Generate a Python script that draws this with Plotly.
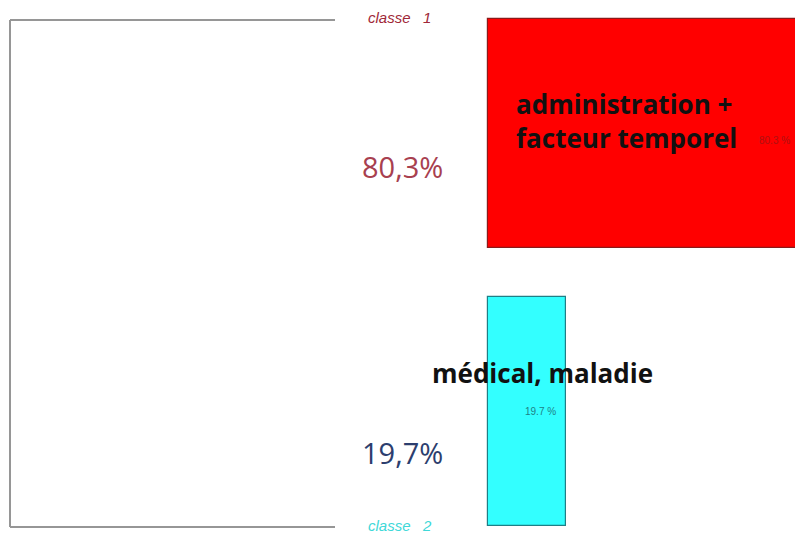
import plotly.graph_objects as go

classes = ["classe 1", "classe 2"]
values = [80.3, 19.7]
pct_labels = ["80,3%", "19,7%"]
small_labels = ["80.3 %", "19.7 %"]
themes = ["administration +<br>facteur temporel", "médical, maladie"]
bar_colors = ["#ff0000", "#33ffff"]
edge_colors = ["#8b1a1a", "#1f7f86"]
class_colors = ["#a02838", "#40d8d8"]
pct_colors = ["#a8404f", "#2c3e6e"]

W, H = 795, 535
ypos = [0, 1]

fig = go.Figure()
fig.add_trace(go.Bar(
    y=ypos, x=values, orientation="h", width=0.827,
    marker=dict(color=bar_colors, line=dict(color=edge_colors, width=1.2)),
    hoverinfo="skip", showlegend=False,
))

def px_x(p):
    return p / W

def px_y(p):
    return 1 - p / H

# dendrogram bracket
line = dict(color="#969696", width=2)
fig.add_shape(type="line", xref="paper", yref="paper", x0=px_x(10), x1=px_x(335), y0=px_y(20), y1=px_y(20), line=line)
fig.add_shape(type="line", xref="paper", yref="paper", x0=px_x(10), x1=px_x(10), y0=px_y(20), y1=px_y(527), line=line)
fig.add_shape(type="line", xref="paper", yref="paper", x0=px_x(10), x1=px_x(335), y0=px_y(527), y1=px_y(527), line=line)

# class labels
for i, (c, py) in enumerate(zip(classes, [18, 525])):
    fig.add_annotation(xref="paper", yref="paper", x=px_x(366), y=px_y(py),
                       xanchor="left", yanchor="middle",
                       text="<i>" + c.replace(" ", "&nbsp;&nbsp;&nbsp;") + "</i>", showarrow=False,
                       font=dict(family="Liberation Sans", size=15, color=class_colors[i]))

# big percentages
for i, y in enumerate(ypos):
    fig.add_annotation(xref="paper", yref="y", x=px_x(360), y=[0.12, 0.149][i] + y,
                       xanchor="left", yanchor="middle",
                       text=pct_labels[i], showarrow=False,
                       font=dict(family="Open Sans", size=29, color=pct_colors[i]))

# small value labels inside bars
fig.add_annotation(xref="paper", yref="y", x=px_x(757), y=ypos[0] + 0.025,
                   xanchor="left", yanchor="middle", text=small_labels[0], showarrow=False,
                   font=dict(family="Liberation Sans", size=10, color="#b01010"))
fig.add_annotation(x=values[1], y=ypos[1], xanchor="right", yanchor="middle", xshift=-8,
                   text=small_labels[1], showarrow=False,
                   font=dict(family="Liberation Sans", size=10, color="#1f7f86"))

# theme labels
fig.add_annotation(xref="paper", yref="paper", x=px_x(514), y=px_y(121),
                   xanchor="left", yanchor="middle",
                   align="left", text="<b>" + themes[0] + "</b>", showarrow=False,
                   font=dict(family="Open Sans", size=26, color="#111111"))
fig.add_annotation(xref="paper", yref="paper", x=px_x(430), y=px_y(373),
                   xanchor="left", yanchor="middle",
                   text="<b>" + themes[1] + "</b>", showarrow=False,
                   font=dict(family="Open Sans", size=26, color="#111111"))

ppu = 78 / 19.7
fig.update_layout(
    width=W, height=H, margin=dict(l=0, r=0, t=0, b=0),
    paper_bgcolor="white", plot_bgcolor="white",
    xaxis=dict(range=[-488 / ppu, (W - 488) / ppu], visible=False, fixedrange=True),
    yaxis=dict(range=[1 + 123.5 / 278, -133.5 / 278], visible=False, fixedrange=True),
    bargap=0,
)

fig.write_html("out.html", config={"displayModeBar": False},
               post_script="document.body.style.margin='0px';document.body.style.overflow='hidden';")
